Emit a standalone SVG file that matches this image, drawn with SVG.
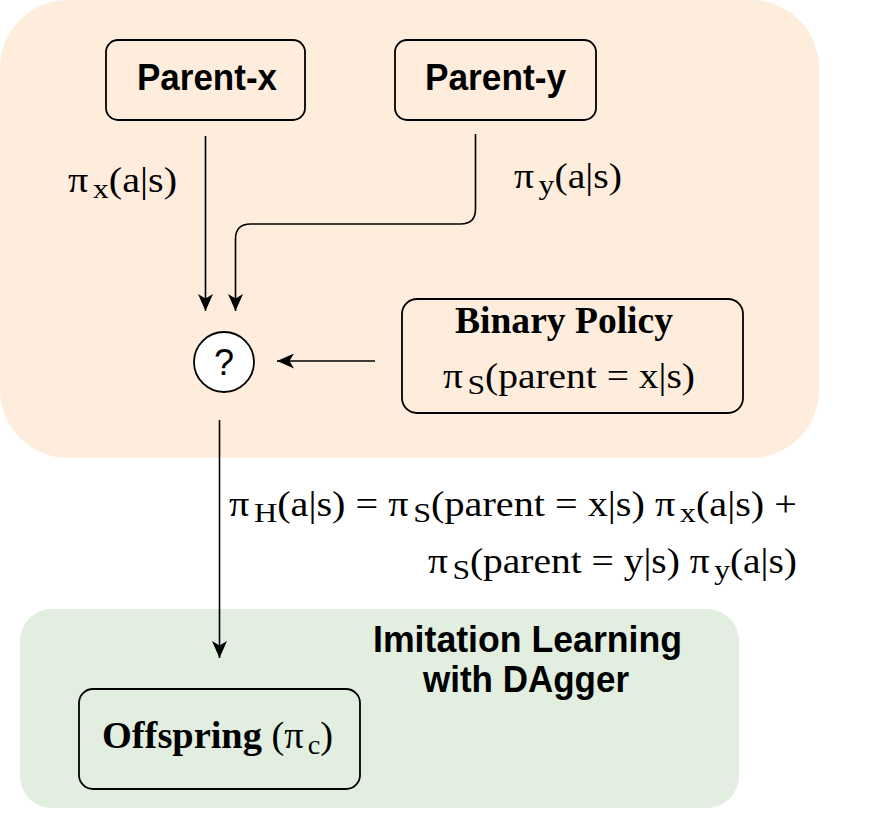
<svg xmlns="http://www.w3.org/2000/svg" width="888" height="813" viewBox="0 0 888 813">
<defs>
<style>
.box{stroke:#000;stroke-width:1.8}
.line{fill:none;stroke:#000;stroke-width:1.6}
.sans{font-family:"Liberation Sans",Arial,sans-serif;font-weight:bold;font-size:36px;fill:#000}
.serif{font-family:"Liberation Serif","Times New Roman",serif;font-size:35px;fill:#000}
.serifb{font-family:"Liberation Serif","Times New Roman",serif;font-size:38px;font-weight:bold;fill:#000}
.sub{font-size:28px}
</style>
<marker id="ah" markerWidth="17" markerHeight="15" refX="17" refY="7.5" orient="auto" markerUnits="userSpaceOnUse">
<path d="M0,0 L17,7.5 L0,15 L4.5,7.5 Z" fill="#000"/>
</marker>
</defs>
<rect width="888" height="813" fill="#fff"/>
<g id="group-parents">
<rect x="0" y="0" width="819" height="458" rx="68" ry="68" fill="#FEEDDD"/>
</g>
<g id="group-imitation">
<rect x="20" y="609" width="719" height="199" rx="32" ry="32" fill="#E2EEE0"/>
<text class="sans" x="373" y="652" textLength="309" lengthAdjust="spacingAndGlyphs">Imitation Learning</text>
<text class="sans" x="423" y="692" textLength="206" lengthAdjust="spacingAndGlyphs">with DAgger</text>
</g>
<g id="connectors">
<line class="line" x1="205.5" y1="136" x2="205.5" y2="311" marker-end="url(#ah)"/>
<path class="line" d="M475.5,134 L475.5,209 Q475.5,224 460.5,224 L250.5,224 Q235.5,224 235.5,239 L235.5,311" marker-end="url(#ah)"/>
<line class="line" x1="375" y1="361" x2="277" y2="361" marker-end="url(#ah)"/>
<line class="line" x1="219.5" y1="420" x2="219.5" y2="658" marker-end="url(#ah)"/>
<text class="serif" x="68" y="192" textLength="109" lengthAdjust="spacingAndGlyphs">π<tspan class="sub" dx="4" dy="6">x</tspan><tspan dy="-6">(a|s)</tspan></text>
<text class="serif" x="514" y="188" textLength="108" lengthAdjust="spacingAndGlyphs">π<tspan class="sub" dx="4" dy="6">y</tspan><tspan dy="-6">(a|s)</tspan></text>
<text class="serif" x="229" y="516" textLength="568" lengthAdjust="spacingAndGlyphs">π<tspan class="sub" dx="4" dy="6">H</tspan><tspan dy="-6">(a|s) = π</tspan><tspan class="sub" dx="4" dy="6">S</tspan><tspan dy="-6">(parent = x|s) π</tspan><tspan class="sub" dx="4" dy="6">x</tspan><tspan dy="-6">(a|s) +</tspan></text>
<text class="serif" x="428" y="573" textLength="369" lengthAdjust="spacingAndGlyphs">π<tspan class="sub" dx="4" dy="6">S</tspan><tspan dy="-6">(parent = y|s) π</tspan><tspan class="sub" dx="4" dy="6">y</tspan><tspan dy="-6">(a|s)</tspan></text>
</g>
<g id="parent-x">
<rect class="box" x="106" y="40" width="199" height="80" rx="12" fill="#FEEDDD"/>
<text class="sans" x="137" y="90" textLength="140" lengthAdjust="spacingAndGlyphs">Parent-x</text>
</g>
<g id="parent-y">
<rect class="box" x="395" y="40" width="201" height="80" rx="12" fill="#FEEDDD"/>
<text class="sans" x="425" y="90" textLength="141" lengthAdjust="spacingAndGlyphs">Parent-y</text>
</g>
<g id="mixer">
<circle class="box" cx="224" cy="362" r="30" fill="#fff"/>
<text x="224" y="375" text-anchor="middle" style="font-family:'Liberation Sans',Arial,sans-serif;font-size:36px">?</text>
</g>
<g id="binary-policy">
<rect class="box" x="402" y="299" width="341" height="114" rx="15" fill="#FEEDDD"/>
<text class="serifb" x="455" y="333" textLength="218" lengthAdjust="spacingAndGlyphs">Binary Policy</text>
<text class="serif" x="443" y="388" textLength="252" lengthAdjust="spacingAndGlyphs">π<tspan class="sub" dx="4" dy="6">S</tspan><tspan dy="-6">(parent = x|s)</tspan></text>
</g>
<g id="offspring">
<rect class="box" x="79" y="689" width="281" height="100" rx="14" fill="#E2EEE0"/>
<text class="serifb" x="102" y="748" textLength="231" lengthAdjust="spacingAndGlyphs">Offspring <tspan font-weight="normal">(π</tspan><tspan class="sub" font-weight="normal" dx="4" dy="6">c</tspan><tspan font-weight="normal" dy="-6">)</tspan></text>
</g>
</svg>
